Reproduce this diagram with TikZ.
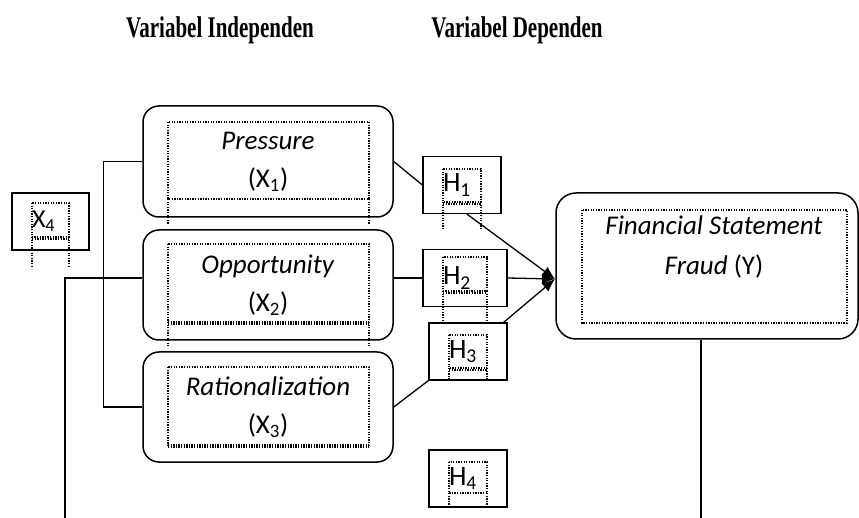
\documentclass[tikz,border=0pt]{standalone}
\usepackage{fontspec}
\setmainfont{Liberation Serif}
\newfontfamily\calf{Carlito}
\usetikzlibrary{arrows.meta}
\begin{document}
\begin{tikzpicture}[x=1pt,y=-1pt,
  var/.style={draw, line width=1.5pt, rounded corners=16pt, minimum width=250pt, minimum height=111pt, align=center, font=\calf\fontsize{27}{38}\selectfont, inner sep=0pt},
  hyp/.style={draw, line width=1.3pt, minimum height=57pt, inner xsep=20pt, inner ysep=0pt, align=left, font=\calf\fontsize{28}{30}\selectfont},
  dots/.style={line width=1.4pt, dash pattern=on 1.3pt off 1.3pt},
  conn/.style={line width=1.3pt},
  arr/.style={conn, -{Latex[length=13pt,width=11pt]}},
  ttl/.style={font=\bfseries\fontsize{30}{32}\selectfont, inner sep=0pt}
]
\useasboundingbox (0,0) rectangle (859,518);
\node[ttl] (t1) at (220,30) {\scalebox{0.7}[1]{Variabel Independen}};
\node[ttl] (t2) at (517,30) {\scalebox{0.7}[1]{Variabel Dependen}};

\node[var] (P) at (268,161.5) {\textit{Pressure}\\(X\textsubscript{1})};
\node[var, minimum height=110pt] (O) at (268,285) {\textit{Opportunity}\\(X\textsubscript{2})};
\node[var, minimum height=110pt] (R) at (268,407) {\textit{Rationalization}\\(X\textsubscript{3})};
\node[var, rounded corners=20pt, minimum width=302pt, minimum height=146pt] (Y) at (707,266) {};
\node[font=\calf\fontsize{27}{40}\selectfont, align=center, inner sep=0pt] (yt) at (714,247) {\textit{Financial Statement}\\\textit{Fraud} (Y)};

\node[hyp, text width=38pt] (H1) at (462,185) {H\textsubscript{1}};
\node[hyp, text width=44pt] (H2) at (465,278) {H\textsubscript{2}};
\node[hyp, text width=38pt] (H3) at (468,351.5) {H\textsubscript{3}};
\node[hyp, text width=38pt] (H4) at (468,478.5) {H\textsubscript{4}};
\node[hyp, text width=37pt, font=\calf\fontsize{26}{30}\selectfont] (X4) at (50.5,221.5) {X\textsubscript{4}};

% dotted inner frames
\draw[dots] (168,122) rectangle (369,199);
\draw[dots] (168,199) -- (168,224) (369,199) -- (369,224);
\draw[dots] (168,244) rectangle (369,322);
\draw[dots] (168,324) -- (369,324);
\draw[dots] (168,322) -- (168,346) (369,322) -- (369,346);
\draw[dots] (168,367) rectangle (369,445);
\draw[dots] (168,447) -- (369,447);
\draw[dots] (582,210) rectangle (847,323);
\draw[dots] (32,203) rectangle (69,237);
\draw[dots] (32,239) -- (69,239);
\draw[dots] (32,237) -- (32,266) (69,237) -- (69,266);
\draw[dots] (443,169) rectangle (481,202);
\draw[dots] (443,204) -- (481,204);
\draw[dots] (443,202) -- (443,230) (481,202) -- (481,230);
\draw[dots] (443,257) rectangle (487,291);
\draw[dots] (443,293) -- (487,293);
\draw[dots] (443,291) -- (443,320) (487,291) -- (487,320);
\draw[dots] (449,335) rectangle (487,368);
\draw[dots] (449,370) -- (487,370);
\draw[dots] (449,368) -- (449,380) (487,368) -- (487,380);
\draw[dots] (449,462) rectangle (487,493);
\draw[dots] (449,493) -- (449,507) (487,493) -- (487,507);

% connectors
\coordinate (tip) at (555,279);
\coordinate (xb) at (65,518);
\coordinate (yb) at (701,518);
\draw[conn] (P.east) -- (H1.west);
\draw[arr] ([xshift=5pt]H1.south) -- (tip);
\draw[conn] (O.east |- H2.west) -- (H2.west);
\draw[arr] (H2.east) -- (tip);
\draw[arr] ([xshift=-4pt]H3.north east) -- (tip);
\draw[conn] (R.east) -- (H3.south west);
\draw[conn] (P.west) -- ++(-39,0) |- (R.west);
\draw[conn] (O.west |- H2.west) -| (xb);
\draw[conn] (Y.south -| yb) -- (yb);
\end{tikzpicture}
\end{document}
